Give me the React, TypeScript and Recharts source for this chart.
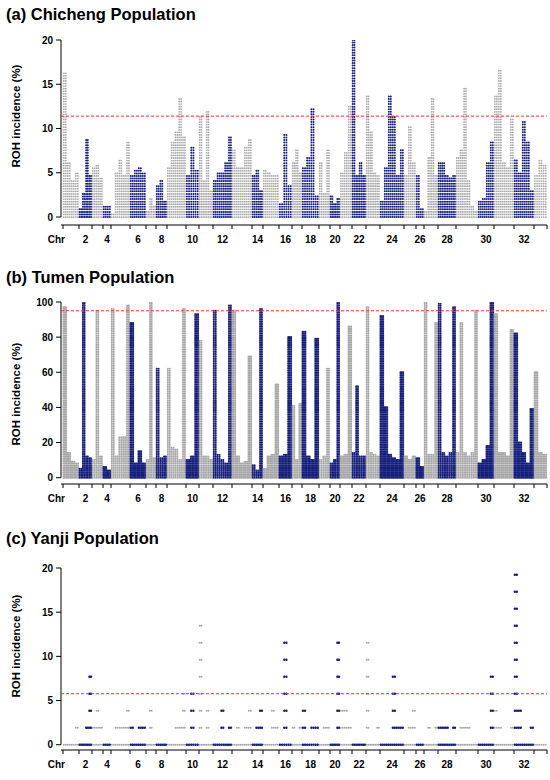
import React from "react";
import { ComposedChart, Bar, XAxis, YAxis, ReferenceLine } from "recharts";

const FONT = "'Liberation Sans', Arial, sans-serif";
const GRAY = "#a8a8a8";
const NAVY = "#161f7c";
const RED = "#ff2b2b";

// chromosome widths along the x axis (relative)
const chrSpan = [16, 13, 11, 8, 19, 16, 10, 11, 19, 13, 14, 19, 20, 11, 16, 13, 10, 17, 11, 10, 12, 14, 14, 24, 12, 8, 14, 18, 22, 16, 20, 20, 13];
const chrLabels = [2, 4, 6, 8, 10, 12, 14, 16, 18, 20, 22, 24, 26, 28, 30, 32];

// ROH incidence (%) per window, chromosome by chromosome
const chichengRoh = [
  [16.3, 6, 4, 4.9], [0.8, 2.5, 8.6, 4.5], [5.6, 5.7, 4.4], [1.2, 1.2],
  [0.4, 4.8, 6.3, 4.5, 8.5], [4.6, 5.2, 5.6, 4.9], [0.5, 1.9, 1.2], [3.4, 4.1, 1.8],
  [5.6, 8.5, 9.7, 13.3, 9], [4.5, 7.8, 5.3], [11.3, 4, 11.8, 3], [4.1, 4.9, 5, 6, 8.9],
  [7.4, 5.5, 5.4, 7.8, 8.8], [4.5, 5.3, 3], [5.3, 4.9, 4.5, 4.5], [1.5, 9.2, 3.5],
  [6, 7.4, 5], [5.4, 6.8, 12.2, 2.4], [6, 2.7, 7.4], [2.3, 1.5, 2],
  [4.8, 7.2, 12.4], [19.9, 4.5, 6.1, 4.6], [13.7, 9.6, 5, 4.5], [1.6, 5.5, 13.7, 11.2, 4.5, 7.5],
  [4.7, 10.1, 6.2], [4.6, 1], [0.6, 6.8, 13.4, 4.5], [6.1, 6.1, 4.6, 4.3, 4.7],
  [6.6, 7.5, 14.6, 4, 1.2, 0.5], [1.8, 2, 6.2, 8.4], [13.7, 16.6, 6, 5.5, 11], [6.3, 5, 10.8, 8.4, 3],
  [4.5, 6.4, 5.8],
];

const tumenRoh = [
  [97, 14, 9, 8], [5, 100, 12, 11], [10, 95, 12], [6, 4],
  [96, 12, 23, 23, 98], [88, 8, 15, 8], [10, 100, 11], [62, 11, 12],
  [62, 17, 16, 10, 96], [10, 12, 93], [78, 12, 12, 10], [95, 13, 10, 8, 98],
  [95, 12, 8, 9, 69], [7, 4, 96], [5, 12, 13, 53], [12, 13, 80],
  [41, 10, 42], [83, 12, 10, 79], [10, 12, 62], [8, 10, 100],
  [12, 13, 86], [14, 52, 12, 12], [97, 14, 13, 12], [92, 40, 13, 11, 10, 60],
  [12, 10, 12], [11, 6], [100, 13, 13, 88], [99, 14, 12, 14, 97],
  [14, 88, 14, 12, 14, 95], [8, 10, 18, 100], [93, 14, 14, 12, 84], [82, 20, 14, 8, 39],
  [60, 14, 13],
];

const yanjiRoh = [
  [0, 0, 0, 1.92], [0, 0, 1.92, 7.69], [1.92, 3.85, 1.92], [0, 0],
  [0, 1.92, 1.92, 1.92, 3.85], [1.92, 0, 1.92, 1.92], [0, 3.85, 0], [0, 0, 0],
  [0, 0, 1.92, 1.92, 5.77], [0, 5.77, 0], [13.46, 0, 3.85, 0], [0, 0, 3.85, 0, 1.92],
  [0, 1.92, 0, 1.92, 3.85], [0, 1.92, 3.85], [0, 0, 3.85, 1.92], [0, 11.54, 0],
  [1.92, 0, 1.92], [3.85, 0, 1.92, 1.92], [0, 1.92, 1.92], [0, 0, 11.54],
  [3.85, 3.85, 1.92], [0, 0, 0, 0], [11.54, 0, 0, 1.92], [0, 0, 0, 7.69, 1.92, 1.92],
  [0, 1.92, 3.85], [0, 0], [0, 1.92, 0, 1.92], [1.92, 1.92, 1.92, 0, 1.92],
  [0, 1.92, 1.92, 1.92, 0, 0], [0, 0, 0, 7.69], [3.85, 1.92, 0, 0, 1.92], [19.23, 3.85, 0, 0, 1.92],
  [0, 0, 0],
];

const smallTicks = [0, 5, 10, 15, 20];
const bigTicks = [0, 20, 40, 60, 80, 100];

const X_MIN = -2;
const total = chrSpan.reduce((a, b) => a + b, 0);
const starts = chrSpan.map((_, i) => chrSpan.slice(0, i).reduce((a, b) => a + b, 0));
const bounds = [...starts, total];
const centers = chrLabels.map((c) => starts[c - 1] + chrSpan[c - 1] / 2);
const xTicks = [X_MIN, ...bounds, ...centers].sort((a, b) => a - b);

const CHART_W = 550;
const Y_AXIS_W = 61;
const RIGHT = 3;
const pxPerUnit = (CHART_W - Y_AXIS_W - RIGHT) / (total - X_MIN);

function toCells(values: number[][]) {
  const out: { x: number; v: number; w: number; chr: number }[] = [];
  values.forEach((list, i) => {
    const w = chrSpan[i] / list.length;
    list.forEach((v, j) => out.push({ x: starts[i] + (j + 0.5) * w, v, w, chr: i + 1 }));
  });
  return out;
}

const labelStyle = { fontSize: 10, fontWeight: 700, fontFamily: FONT, fill: "#000" };

function XTick(props: any) {
  const { x, y, payload } = props;
  const v = payload.value;
  if (v === X_MIN) {
    return (
      <text x={x + 4} y={y + 18} textAnchor="end" style={labelStyle}>
        Chr
      </text>
    );
  }
  const k = centers.indexOf(v);
  if (k >= 0) {
    return (
      <text x={x} y={y + 18} textAnchor="middle" style={labelStyle}>
        {chrLabels[k]}
      </text>
    );
  }
  return <line x1={x} x2={x} y1={y} y2={y + 4} stroke="#000" strokeWidth={1} />;
}

// each window is drawn as a block of dots, one row per discrete incidence level
function dotStack(step: number, gap: number, rGray: number, rNavy: number) {
  return (props: any) => {
    const { x, y, width, height, payload } = props;
    const base = y + height;
    const unit = payload.v > 0 ? height / payload.v : 0;
    const rows = Math.round(payload.v / step);
    const navy = payload.chr % 2 === 0;
    const color = navy ? NAVY : GRAY;
    const r = navy ? rNavy : rGray;
    const cellPx = payload.w * pxPerUnit;
    const mid = x + width / 2;
    const ncol = Math.max(1, Math.round(cellPx / gap));
    const dots: React.ReactNode[] = [];
    for (let k = 0; k <= rows; k++) {
      for (let c = 0; c < ncol; c++) {
        const cx = mid - cellPx / 2 + ((c + 0.5) * cellPx) / ncol;
        dots.push(<circle key={k * ncol + c} cx={cx} cy={base - k * step * unit} r={r} fill={color} />);
      }
    }
    return <g>{dots}</g>;
  };
}

type PanelProps = {
  title: string;
  titleTop: number;
  top: number;
  height: number;
  data: number[][];
  domain: [number, number];
  ticks: number[];
  step: number;
  gap: number;
  rGray: number;
  rNavy: number;
  cut: number;
  labelMid: number;
};

function Panel({ title, titleTop, top, height, data, domain, ticks, step, gap, rGray, rNavy, cut, labelMid }: PanelProps) {
  const cells = toCells(data);
  return (
    <>
      <div
        style={{
          position: "absolute",
          left: 6,
          top: titleTop,
          fontFamily: FONT,
          fontWeight: 700,
          fontSize: 16.5,
          lineHeight: 1,
          whiteSpace: "nowrap",
        }}
      >
        {title}
      </div>
      <div style={{ position: "absolute", left: 0, top }}>
        <ComposedChart width={CHART_W} height={height} data={cells} margin={{ top: 10, right: RIGHT, bottom: 0, left: 0 }}>
          <XAxis
            dataKey="x"
            type="number"
            domain={[X_MIN, total]}
            ticks={xTicks}
            interval={0}
            tick={<XTick />}
            tickLine={false}
            tickSize={0}
            tickMargin={0}
            height={25}
            axisLine={{ stroke: "#000" }}
            allowDataOverflow
          />
          <YAxis
            type="number"
            domain={domain}
            ticks={ticks}
            interval={0}
            width={Y_AXIS_W}
            axisLine={false}
            tickLine={{ stroke: "#000" }}
            tickSize={5}
            tickMargin={3}
            tick={labelStyle}
            allowDataOverflow
            label={() => (
              <text
                transform={`translate(16 ${labelMid}) rotate(-90)`}
                textAnchor="middle"
                dominantBaseline="central"
                style={{ fontSize: 11.5, fontWeight: 700, fontFamily: FONT, fill: "#000" }}
              >
                ROH incidence (%)
              </text>
            )}
          />
          <Bar dataKey="v" barSize={4} shape={dotStack(step, gap, rGray, rNavy)} isAnimationActive={false} />
          <ReferenceLine
            segment={[
              { x: X_MIN, y: 0 },
              { x: X_MIN, y: domain[1] },
            ]}
            stroke="#000"
          />
          <ReferenceLine y={cut} stroke={RED} strokeDasharray="3 2" strokeWidth={1} />
        </ComposedChart>
      </div>
    </>
  );
}

export default function App() {
  return (
    <div style={{ position: "absolute", left: 0, top: 0, width: 550, height: 780, background: "#fff" }}>
      <Panel
        title="(a) Chicheng Population"
        titleTop={6}
        top={30}
        height={220}
        data={chichengRoh}
        domain={[-0.9, 20]}
        ticks={smallTicks}
        step={0.29}
        gap={2}
        rGray={0.9}
        rNavy={1}
        cut={11.4}
        labelMid={86}
      />
      <Panel
        title="(b) Tumen Population"
        titleTop={269}
        top={292}
        height={217}
        data={tumenRoh}
        domain={[-3.6, 100]}
        ticks={bigTicks}
        step={1}
        gap={1.6}
        rGray={1}
        rNavy={1.05}
        cut={95}
        labelMid={102}
      />
      <Panel
        title="(c) Yanji Population"
        titleTop={530}
        top={558}
        height={217}
        data={yanjiRoh}
        domain={[-0.6, 20]}
        ticks={smallTicks}
        step={1.923}
        gap={2}
        rGray={1}
        rNavy={1.2}
        cut={5.77}
        labelMid={88}
      />
    </div>
  );
}
